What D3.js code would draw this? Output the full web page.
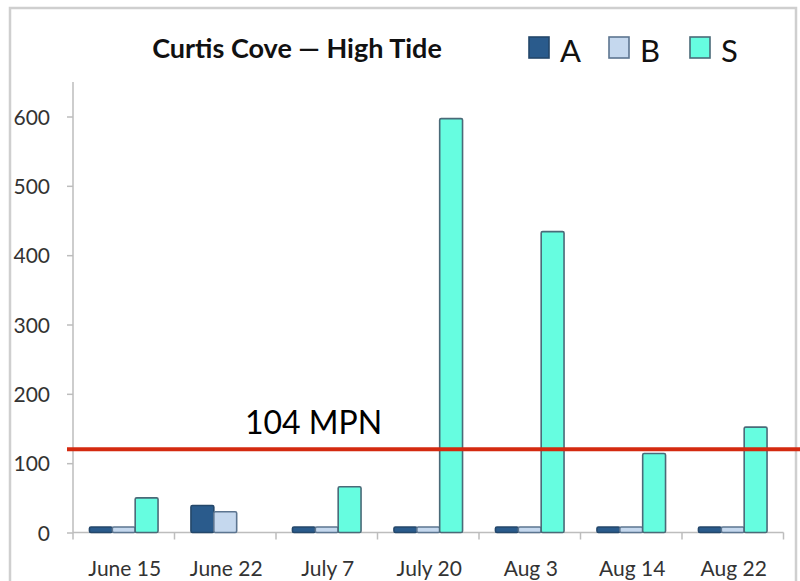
<!DOCTYPE html>
<html><head><meta charset="utf-8">
<script src="https://cdn.jsdelivr.net/npm/d3@7"></script>
<style>
html,body{margin:0;padding:0;background:#fff;}
svg{display:block;}
text{font-family:Lato,"Open Sans",sans-serif;}
</style></head>
<body><svg id="chart" width="800" height="581"></svg>
<script>
const categories = ["June 15","June 22","July 7","July 20","Aug 3","Aug 14","Aug 22"];
const seriesNames = ["A","B","S"];
const valuesA = [8,39,8,8,8,8,8];
const valuesB = [8,30,8,8,8,8,8];
const valuesS = [50,0,66,597,434,114,152];
const yTicks = [0,100,200,300,400,500,600];
const thresholdValue = 120;
const thresholdLabel = "104 MPN";
const titleText = "Curtis Cove \u2014 High Tide";

const fills = {A:"#2a5b8c", B:"#c5d8ee", S:"#66fde0"};
const strokes = {A:"#24476a", B:"#5c7590", S:"#4a6a78"};

const svg = d3.select("#chart");

// frame
svg.append("rect").attr("x",10).attr("y",8).attr("width",786).attr("height",590)
  .attr("fill","#fff").attr("stroke","#cfcfcf").attr("stroke-width",2.5);

const x = d3.scaleBand().domain(categories).range([73,783.5]).paddingInner(0).paddingOuter(0);
const xSub = d3.scaleBand().domain(seriesNames).range([0,x.bandwidth()]).paddingInner(0).paddingOuter(0.72);
const y = d3.scaleLinear().domain([0,600]).range([532.5,116.5]);

// y axis
const yAxis = svg.append("g").attr("transform","translate(73,0)")
  .call(d3.axisLeft(y).tickValues(yTicks).tickSize(6).tickPadding(17).tickSizeOuter(0));
yAxis.select(".domain").remove();
yAxis.append("line").attr("x1",0).attr("x2",0).attr("y1",82).attr("y2",y(0))
  .attr("stroke","#bdbdbd").attr("stroke-width",1.5);
yAxis.selectAll(".tick line").attr("stroke","#bdbdbd").attr("stroke-width",1.5);
yAxis.selectAll(".tick text").attr("fill","#333").attr("font-size",21).attr("dy","0.36em");

// x axis baseline + ticks at band boundaries
const xg = svg.append("g");
xg.append("line").attr("x1",73).attr("x2",783.5).attr("y1",y(0)).attr("y2",y(0))
  .attr("stroke","#bdbdbd").attr("stroke-width",1.5);
const bounds = categories.map(c => x(c) + x.bandwidth()).concat([x(categories[0])]);
xg.selectAll("line.tk").data(bounds).enter().append("line").attr("class","tk")
  .attr("x1",d=>d).attr("x2",d=>d).attr("y1",y(0)).attr("y2",y(0)+7)
  .attr("stroke","#bdbdbd").attr("stroke-width",1.5);
xg.selectAll("text.xl").data(categories).enter().append("text").attr("class","xl")
  .attr("x",d=>x(d)+x.bandwidth()/2+1).attr("y",576).attr("text-anchor","middle")
  .attr("font-size",21).attr("fill","#333").text(d=>d);

// bars
const rows = categories.map((c,i)=>({cat:c, A:valuesA[i], B:valuesB[i], S:valuesS[i]}));
const groups = svg.append("g").selectAll("g").data(rows).enter().append("g")
  .attr("transform",d=>`translate(${x(d.cat)},0)`);
groups.selectAll("rect").data(d=>seriesNames.map(k=>({k, v:d[k]})).filter(e=>e.v>0))
  .enter().append("rect")
  .attr("x",d=>xSub(d.k)).attr("width",xSub.bandwidth())
  .attr("y",d=>y(d.v)).attr("height",d=>y(0)-y(d.v))
  .attr("rx",1.5)
  .attr("fill",d=>fills[d.k]).attr("stroke",d=>strokes[d.k]).attr("stroke-width",1.6);

// threshold line
svg.append("line").attr("x1",67).attr("x2",800).attr("y1",y(thresholdValue)).attr("y2",y(thresholdValue))
  .attr("stroke","#d42a10").attr("stroke-width",4);
svg.append("text").attr("x",245).attr("y",434).attr("font-size",32).attr("fill","#000")
  .text(thresholdLabel);

// title
svg.append("text").attr("x",297).attr("y",58).attr("text-anchor","middle")
  .attr("font-size",27).attr("font-weight","bold").attr("fill","#111").text(titleText);

// legend
const legendX = [529,609,690];
const lg = svg.append("g");
seriesNames.forEach((k,i)=>{
  lg.append("rect").attr("x",legendX[i]).attr("y",37).attr("width",20).attr("height",21)
    .attr("fill",fills[k]).attr("stroke",strokes[k]).attr("stroke-width",1.6);
  lg.append("text").attr("x",legendX[i]+31).attr("y",62).attr("font-size",31)
    .attr("fill","#111").text(k);
});
</script></body></html>
